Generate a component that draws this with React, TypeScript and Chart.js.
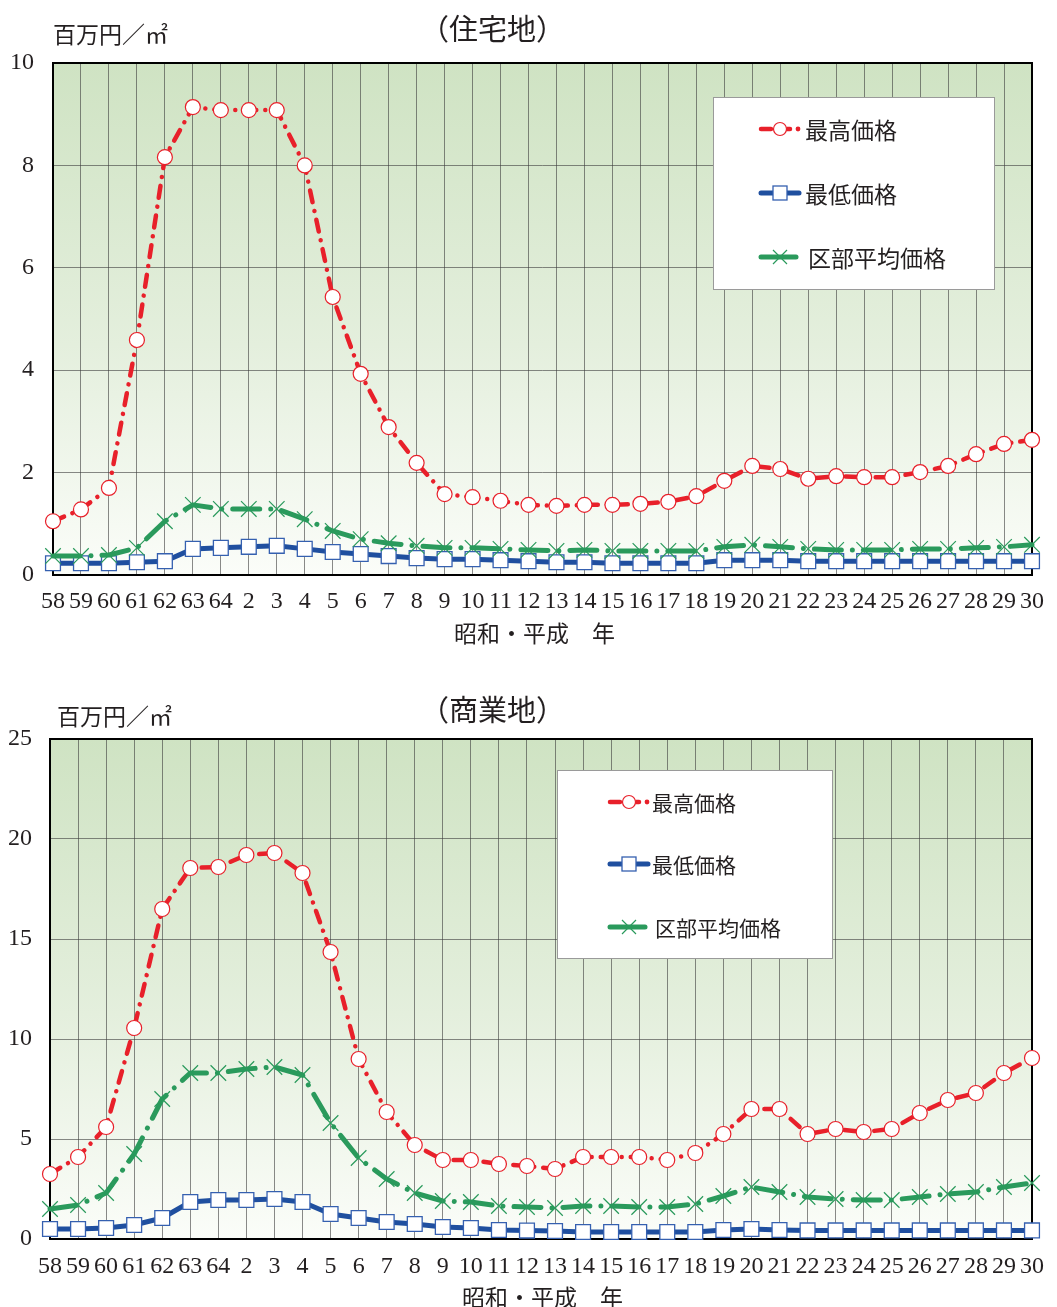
import React, { useEffect, useRef } from 'react';
import { Chart, registerables } from 'chart.js';

Chart.register(...registerables);

// ---------- data ----------
const years = ['58', '59', '60', '61', '62', '63', '64', '2', '3', '4', '5', '6', '7', '8', '9', '10',
  '11', '12', '13', '14', '15', '16', '17', '18', '19', '20', '21', '22', '23', '24', '25', '26', '27', '28', '29', '30'];

const seriesNames = ['最高価格', '最低価格', '区部平均価格'];

// 住宅地 (百万円/㎡)
const residentialHigh = [1.05, 1.28, 1.70, 4.59, 8.16, 9.14, 9.08,
  9.08, 9.08, 8.00, 5.43, 3.93, 2.89, 2.19, 1.58, 1.52,
  1.45, 1.37, 1.35, 1.37, 1.37, 1.39, 1.43, 1.54, 1.84, 2.13,
  2.07, 1.88, 1.93, 1.91, 1.91, 2.01, 2.13, 2.36, 2.56, 2.64];
const residentialLow = [0.23, 0.23, 0.23, 0.25, 0.27, 0.51, 0.53,
  0.55, 0.57, 0.51, 0.45, 0.41, 0.37, 0.33, 0.31, 0.31,
  0.29, 0.27, 0.25, 0.25, 0.23, 0.23, 0.23, 0.23, 0.29, 0.29,
  0.29, 0.27, 0.27, 0.27, 0.27, 0.27, 0.27, 0.27, 0.27, 0.27];
const residentialAvg = [0.37, 0.37, 0.39, 0.53, 1.05, 1.37, 1.29,
  1.29, 1.29, 1.09, 0.86, 0.70, 0.62, 0.57, 0.53, 0.53,
  0.51, 0.49, 0.47, 0.49, 0.47, 0.47, 0.47, 0.47, 0.55, 0.59,
  0.55, 0.51, 0.49, 0.49, 0.49, 0.51, 0.51, 0.53, 0.55, 0.59];

// 商業地 (百万円/㎡)
const commercialHigh = [3.25, 4.1, 5.6, 10.55, 16.5, 18.55, 18.6,
  19.2, 19.3, 18.3, 14.35, 9.0, 6.35, 4.7, 3.95, 3.95,
  3.75, 3.65, 3.5, 4.1, 4.1, 4.1, 3.95, 4.3, 5.25, 6.5,
  6.5, 5.25, 5.5, 5.35, 5.5, 6.3, 6.95, 7.3, 8.3, 9.05];
const commercialLow = [0.5, 0.5, 0.55, 0.7, 1.05, 1.85, 1.95,
  1.95, 2.0, 1.85, 1.25, 1.05, 0.85, 0.75, 0.6, 0.55,
  0.45, 0.42, 0.4, 0.35, 0.35, 0.35, 0.35, 0.35, 0.45, 0.5,
  0.45, 0.43, 0.43, 0.43, 0.43, 0.43, 0.43, 0.43, 0.43, 0.43];
const commercialAvg = [1.5, 1.7, 2.3, 4.25, 7.0, 8.3, 8.3,
  8.5, 8.6, 8.2, 5.8, 4.05, 3.0, 2.3, 1.9, 1.85,
  1.65, 1.6, 1.55, 1.65, 1.65, 1.6, 1.6, 1.75, 2.15, 2.6,
  2.35, 2.1, 2.0, 1.95, 1.95, 2.1, 2.25, 2.35, 2.6, 2.8];

const residentialAxis = { max: 10, step: 2 };
const commercialAxis = { max: 25, step: 5 };

// ---------- styles ----------
const RED = '#e8202a';
const BLUE = '#1f4f9f';
const BLUE_EDGE = '#3560b0';
const GREEN = '#2a9a5c';
const GRID = 'rgba(60,60,60,0.6)';
const TEXT = '#231f20';
const SERIF = '"Liberation Serif", "DejaVu Serif", serif';
const JP = '"Noto Sans CJK JP", "Noto Sans", sans-serif';
const RED_DASH = [12, 9, 0.01, 9];
const GREEN_DASH = [27, 11, 0.01, 11];
const W = 1057;

type Panel = {
  top: number; height: number;
  area: { left: number; right: number; top: number; bottom: number };
  yMax: number; yStep: number;
  high: number[]; low: number[]; avg: number[];
  title: string; titleX: number; titleY: number; titleSize: number;
  unitX: number; unitY: number; unitSize: number;
  xTitleX: number; xTitleY: number; xTitleSize: number;
  yTickPad: number; xTickPad: number;
  legend: { x: number; y: number; w: number; h: number; rows: number[]; sampleX: number; textX: number; fontSize: number };
};

const panels: Panel[] = [
  {
    top: 0, height: 650,
    area: { left: 53, right: 1032, top: 63, bottom: 575 },
    yMax: residentialAxis.max, yStep: residentialAxis.step,
    high: residentialHigh, low: residentialLow, avg: residentialAvg,
    title: '（住宅地）', titleX: 420, titleY: 29, titleSize: 29,
    unitX: 53, unitY: 34, unitSize: 23,
    xTitleX: 454, xTitleY: 633, xTitleSize: 23,
    yTickPad: 19, xTickPad: 12,
    legend: { x: 713, y: 97, w: 281, h: 192, rows: [129, 193, 257], sampleX: 759, textX: 805, fontSize: 23 },
  },
  {
    top: 650, height: 657,
    area: { left: 50, right: 1044, top: 89, bottom: 589 },
    yMax: commercialAxis.max, yStep: commercialAxis.step,
    high: commercialHigh, low: commercialLow, avg: commercialAvg,
    title: '（商業地）', titleX: 420, titleY: 60, titleSize: 29,
    unitX: 57, unitY: 66, unitSize: 23,
    xTitleX: 462, xTitleY: 647, xTitleSize: 23,
    yTickPad: 18, xTickPad: 13,
    legend: { x: 557, y: 120, w: 275, h: 188, rows: [152, 214, 277], sampleX: 608, textX: 652, fontSize: 21 },
  },
];

function drawCross(ctx: CanvasRenderingContext2D, x: number, y: number, r: number) {
  ctx.beginPath();
  ctx.moveTo(x - r, y - r); ctx.lineTo(x + r, y + r);
  ctx.moveTo(x + r, y - r); ctx.lineTo(x - r, y + r);
  ctx.stroke();
}

function makeDecor(p: Panel) {
  return {
    id: 'decor',
    beforeDraw(chart: any) {
      const { ctx, chartArea: a } = chart;
      ctx.save();
      const g = ctx.createLinearGradient(0, a.top, 0, a.bottom);
      g.addColorStop(0, '#cfe3c3');
      g.addColorStop(0.55, '#e4efdd');
      g.addColorStop(1, '#fbfdf9');
      ctx.fillStyle = g;
      ctx.fillRect(a.left, a.top, a.right - a.left, a.bottom - a.top);
      ctx.restore();
    },
    beforeDatasetsDraw(chart: any) {
      const { ctx, chartArea: a } = chart;
      ctx.save();
      ctx.strokeStyle = '#000';
      ctx.lineWidth = 2;
      ctx.strokeRect(a.left, a.top, a.right - a.left, a.bottom - a.top);

      // legend box
      const lg = p.legend;
      ctx.fillStyle = '#fff';
      ctx.fillRect(lg.x, lg.y, lg.w, lg.h);
      ctx.strokeStyle = '#9a9a9a';
      ctx.lineWidth = 1;
      ctx.strokeRect(lg.x + 0.5, lg.y + 0.5, lg.w, lg.h);
      const x0 = lg.sampleX;
      const cx = x0 + 21;
      ctx.lineCap = 'round';
      // red
      let y = lg.rows[0];
      ctx.strokeStyle = RED; ctx.lineWidth = 4.5;
      ctx.beginPath(); ctx.moveTo(x0 + 2, y); ctx.lineTo(x0 + 12, y); ctx.stroke();
      ctx.beginPath(); ctx.moveTo(cx + 7, y); ctx.lineTo(cx + 10, y); ctx.stroke();
      ctx.fillStyle = RED; ctx.beginPath(); ctx.arc(x0 + 39, y, 2.4, 0, Math.PI * 2); ctx.fill();
      ctx.fillStyle = '#fff'; ctx.lineWidth = 1.2;
      ctx.beginPath(); ctx.arc(cx, y, 6.5, 0, Math.PI * 2); ctx.fill(); ctx.stroke();
      // blue
      y = lg.rows[1];
      ctx.strokeStyle = BLUE; ctx.lineWidth = 5;
      ctx.beginPath(); ctx.moveTo(x0 + 2, y); ctx.lineTo(x0 + 40, y); ctx.stroke();
      ctx.fillStyle = '#fff'; ctx.strokeStyle = BLUE_EDGE; ctx.lineWidth = 1.3;
      ctx.fillRect(cx - 7, y - 7, 14, 14); ctx.strokeRect(cx - 7, y - 7, 14, 14);
      // green
      y = lg.rows[2];
      ctx.strokeStyle = GREEN; ctx.lineWidth = 5;
      ctx.beginPath(); ctx.moveTo(x0 + 2, y); ctx.lineTo(x0 + 37, y); ctx.stroke();
      ctx.lineWidth = 1.2; ctx.lineCap = 'butt';
      drawCross(ctx, cx, y, 7);

      ctx.fillStyle = TEXT;
      ctx.font = `${lg.fontSize}px ${JP}`;
      ctx.textBaseline = 'middle';
      ctx.textAlign = 'left';
      seriesNames.forEach((n, i) => {
        ctx.fillText(n, lg.textX + (i === 2 ? 3 : 0), lg.rows[i] + 1);
      });
      ctx.restore();
    },
    afterDraw(chart: any) {
      const { ctx } = chart;
      ctx.save();
      ctx.fillStyle = TEXT;
      ctx.textBaseline = 'middle';
      ctx.textAlign = 'left';
      ctx.font = `${p.titleSize}px ${JP}`;
      ctx.fillText(p.title, p.titleX, p.titleY);
      ctx.font = `${p.unitSize}px ${JP}`;
      ctx.fillText('百万円／㎡', p.unitX, p.unitY);
      ctx.font = `${p.xTitleSize}px ${JP}`;
      ctx.fillText('昭和・平成　年', p.xTitleX, p.xTitleY);
      ctx.restore();
    },
  };
}

function PricePanel({ p }: { p: Panel }) {
  const ref = useRef<HTMLCanvasElement>(null);
  useEffect(() => {
    const canvas = ref.current;
    if (!canvas) return;
    const tickFont = { family: SERIF, size: 24 };
    const chart = new Chart(canvas, {
      type: 'line',
      data: {
        labels: years,
        datasets: [
          {
            label: seriesNames[0], data: p.high,
            borderColor: RED, borderWidth: 4.5, borderDash: RED_DASH, borderCapStyle: 'round', borderJoinStyle: 'round',
            pointStyle: 'circle', pointRadius: 7.5, pointBackgroundColor: '#fff', pointBorderColor: RED, pointBorderWidth: 1.2,
            tension: 0, clip: false,
          },
          {
            label: seriesNames[2], data: p.avg,
            borderColor: GREEN, borderWidth: 5, borderDash: GREEN_DASH, borderCapStyle: 'round', borderJoinStyle: 'round',
            pointStyle: 'crossRot', pointRadius: 11, pointBorderColor: GREEN, pointBackgroundColor: GREEN, pointBorderWidth: 1.2,
            tension: 0, clip: false,
          },
          {
            label: seriesNames[1], data: p.low,
            borderColor: BLUE, borderWidth: 5, borderJoinStyle: 'round',
            pointStyle: 'rect', pointRadius: 10.5, pointBackgroundColor: '#fff', pointBorderColor: BLUE_EDGE, pointBorderWidth: 1.3,
            tension: 0, clip: false,
          },
        ],
      } as any,
      options: {
        responsive: false,
        animation: false,
        events: [],
        layout: { padding: { left: 0, right: W - p.area.right, top: p.area.top, bottom: 0 } },
        plugins: { legend: { display: false }, tooltip: { enabled: false }, title: { display: false } },
        scales: {
          x: {
            offset: false,
            grid: { color: GRID, lineWidth: 1, drawTicks: false },
            border: { display: false },
            ticks: { autoSkip: false, maxRotation: 0, minRotation: 0, padding: p.xTickPad, color: TEXT, font: tickFont },
            afterFit: (s: any) => { s.height = p.height - p.area.bottom; },
          },
          y: {
            min: 0, max: p.yMax,
            grid: { color: GRID, lineWidth: 1, drawTicks: false },
            border: { display: false },
            ticks: { stepSize: p.yStep, padding: p.yTickPad, color: TEXT, font: tickFont },
            afterFit: (s: any) => { s.width = p.area.left; },
          },
        },
      } as any,
      plugins: [makeDecor(p)],
    });
    return () => chart.destroy();
  }, [p]);
  return (
    <canvas
      ref={ref}
      width={W}
      height={p.height}
      style={{ position: 'absolute', left: 0, top: p.top, width: W, height: p.height }}
    />
  );
}

export default function App() {
  return (
    <div style={{ position: 'absolute', left: 0, top: 0, width: W, height: 1307, background: '#fff' }}>
      {panels.map((p, i) => <PricePanel key={i} p={p} />)}
    </div>
  );
}
